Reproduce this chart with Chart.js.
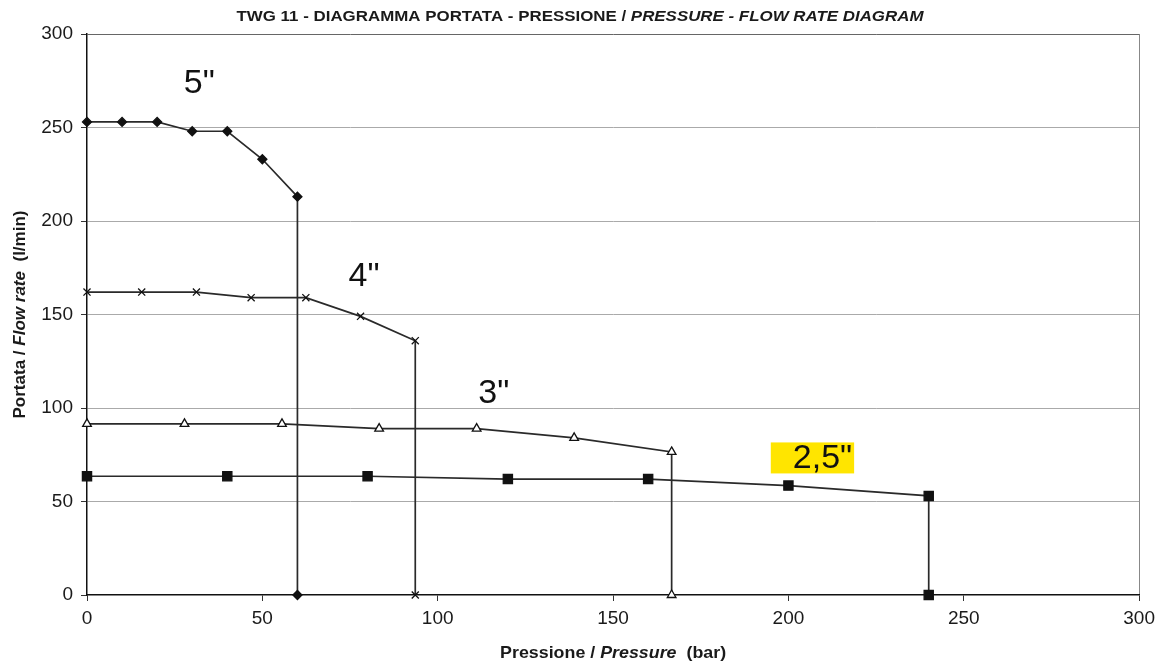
<!DOCTYPE html>
<html><head><meta charset="utf-8">
<script src="https://cdn.jsdelivr.net/npm/chart.js@4/dist/chart.umd.min.js"></script>
<style>html,body{margin:0;padding:0;background:#fff;overflow:hidden}</style>
</head><body>
<canvas id="c" width="1161" height="663"></canvas>
<script>
// ---- data ----
const xTicks = [0, 50, 100, 150, 200, 250, 300];
const yTicks = [0, 50, 100, 150, 200, 250, 300];
const p5  = [0, 10, 20, 30, 40, 50, 60];
const q5  = [253, 253, 253, 248, 248, 233, 213];
const p4  = [0, 15.6, 31.2, 46.8, 62.4, 78, 93.6];
const q4  = [162, 162, 162, 159, 159, 149, 136];
const p3  = [0, 27.8, 55.6, 83.3, 111.1, 138.9, 166.7];
const q3  = [91.5, 91.5, 91.5, 89, 89, 84, 76.5];
const p25 = [0, 40, 80, 120, 160, 200, 240];
const q25 = [63.5, 63.5, 63.5, 62, 62, 58.5, 53];
const seriesNames = ['5"', '4"', '3"', '2,5"'];
const labelX = [32, 79, 116, 209.7];
const labelY = [274, 171, 108, 73.3];
const titleParts = [['TWG 11 - DIAGRAMMA PORTATA - PRESSIONE / ', false], ['PRESSURE - FLOW RATE DIAGRAM', true]];
const xTitleParts = [['Pressione / ', false], ['Pressure', true], ['  (bar)', false]];
const yTitleParts = [['Portata / ', false], ['Flow rate', true], ['  (l/min)', false]];

const FONT = '"Liberation Sans", Arial, sans-serif';

function build(px, qy) {
  const pts = px.map((x, i) => ({x: x, y: qy[i]}));
  pts.push({x: px[px.length - 1], y: 0});
  return pts;
}

function drawMixed(ctx, parts, size, cx, cy, targetW) {
  let total = 0;
  const widths = parts.map(([t, it]) => {
    ctx.font = (it ? 'italic ' : '') + 'bold ' + size + 'px ' + FONT;
    const w = ctx.measureText(t).width; total += w; return w;
  });
  const sx = targetW ? targetW / total : 1;
  ctx.save();
  ctx.translate(cx, cy);
  ctx.scale(sx, 1);
  let x = -total / 2;
  ctx.textBaseline = 'middle';
  ctx.textAlign = 'left';
  ctx.fillStyle = '#1a1a1a';
  parts.forEach(([t, it], i) => {
    ctx.font = (it ? 'italic ' : '') + 'bold ' + size + 'px ' + FONT;
    ctx.fillText(t, x, 0);
    x += widths[i];
  });
  ctx.restore();
}

const textPlugin = {
  id: 'texts',
  afterDatasetsDraw(chart) {
    const {ctx, scales: {x, y}} = chart;
    ctx.save();
    ctx.font = '34px ' + FONT;
    ctx.textAlign = 'center';
    ctx.textBaseline = 'middle';
    seriesNames.forEach((n, i) => {
      const cx = x.getPixelForValue(labelX[i]);
      const cy = y.getPixelForValue(labelY[i]);
      if (i === 3) {
        const w = ctx.measureText(n).width;
        ctx.fillStyle = '#ffe500';
        ctx.fillRect(cx - w / 2 - 22, cy - 15.5, w + 24, 31);
      }
      ctx.fillStyle = '#111';
      ctx.fillText(n, cx, cy + 1);
    });
    ctx.restore();
  },
  afterDraw(chart) {
    const ctx = chart.ctx;
    const a = chart.chartArea;
    drawMixed(ctx, titleParts, 14, 580, 17, 687);
    drawMixed(ctx, xTitleParts, 17, (a.left + a.right) / 2, 653, 226);
    ctx.save();
    ctx.translate(21, (a.top + a.bottom) / 2);
    ctx.rotate(-Math.PI / 2);
    drawMixed(ctx, yTitleParts, 16, 0, 0, 208);
    ctx.restore();
  }
};

const common = {borderColor: '#2a2a2a', borderWidth: 1.7, pointBorderColor: '#111', pointBorderWidth: 1.3, clip: false, tension: 0, fill: false};

new Chart(document.getElementById('c'), {
  type: 'line',
  data: {
    datasets: [
      Object.assign({label: seriesNames[0], data: build(p5, q5), pointStyle: 'rectRot', pointRadius: 4.5, pointBackgroundColor: '#111'}, common),
      Object.assign({label: seriesNames[1], data: build(p4, q4), pointStyle: 'crossRot', pointRadius: 5, pointBackgroundColor: '#111'}, common),
      Object.assign({label: seriesNames[2], data: build(p3, q3), pointStyle: 'triangle', pointRadius: 5, pointBackgroundColor: '#fff'}, common),
      Object.assign({label: seriesNames[3], data: build(p25, q25), pointStyle: 'rect', pointRadius: 6.5, pointBackgroundColor: '#111'}, common)
    ]
  },
  options: {
    responsive: false,
    animation: false,
    devicePixelRatio: 1,
    layout: {padding: {top: 34, right: 18, left: 0, bottom: 0}},
    plugins: {legend: {display: false}, tooltip: {enabled: false}, title: {display: false}},
    scales: {
      x: {
        type: 'linear', min: 0, max: 300,
        afterBuildTicks: s => { s.ticks = xTicks.map(v => ({value: v})); },
        afterFit: s => { s.height = 68; },
        ticks: {font: {family: FONT, size: 19}, color: '#1a1a1a', padding: 6, maxRotation: 0},
        grid: {color: c => (c.tick && c.tick.value === 300) ? '#888' : 'rgba(0,0,0,0)', tickColor: '#333', tickLength: 6, lineWidth: 1},
        border: {color: '#111', width: 1.5}
      },
      y: {
        type: 'linear', min: 0, max: 300,
        afterBuildTicks: s => { s.ticks = yTicks.map(v => ({value: v})); },
        afterFit: s => { s.width = 87; },
        ticks: {font: {family: FONT, size: 19}, color: '#1a1a1a', padding: 8},
        grid: {color: c => (c.tick && c.tick.value === 0) ? 'rgba(0,0,0,0)' : (c.tick && c.tick.value === 300 ? '#666' : '#aaa'), tickColor: '#333', tickLength: 6, lineWidth: 1},
        border: {color: '#111', width: 1.5}
      }
    }
  },
  plugins: [textPlugin]
});
</script>
</body></html>
